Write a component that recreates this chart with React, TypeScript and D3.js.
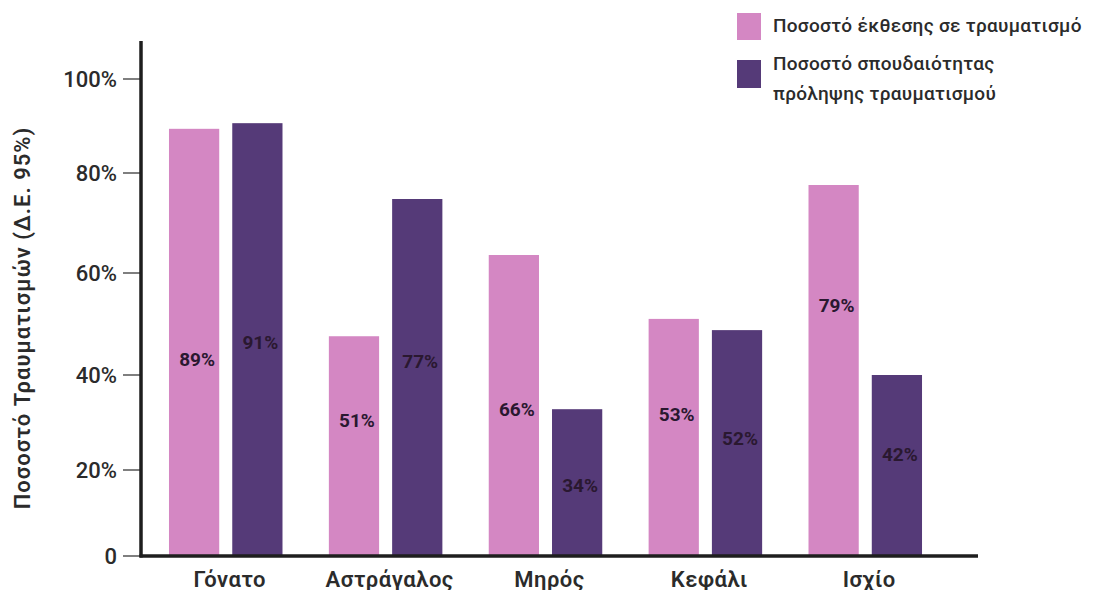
import React from "react";
import * as d3 from "d3";

const categories = ["Γόνατο", "Αστράγαλος", "Μηρός", "Κεφάλι", "Ισχίο"];
const seriesNames = ["Ποσοστό έκθεσης σε τραυματισμό", "Ποσοστό σπουδαιότητας πρόληψης τραυματισμού"];
// bar heights read against the picture's axis
const exposureValues = [89.4, 47.6, 63.6, 51.0, 77.6];
const importanceValues = [90.6, 74.8, 32.8, 48.8, 40.0];
// printed labels
const exposureLabels = ["89%", "51%", "66%", "53%", "79%"];
const importanceLabels = ["91%", "77%", "34%", "52%", "42%"];
// where each printed label sits, in axis units
const exposureLabelAt = [43.1, 30.5, 32.8, 31.6, 53.7];
const importanceLabelAt = [46.3, 42.7, 16.5, 26.7, 23.2];
const yTicks = [0, 20, 40, 60, 80, 100];
const yTickLabels = ["0", "20%", "40%", "60%", "80%", "100%"];
const yTitle = "Ποσοστό Τραυματισμών (Δ.Ε. 95%)";

const W = 1093;
const H = 590;
const PINK = "#D487C3";
const PURPLE = "#553A78";
const FONT = "Roboto, 'Noto Sans', sans-serif";
const TEXT = "#2b2b2b";

export default function App() {
  // the picture's axis is slightly uneven; follow its tick positions
  const y = d3.scaleLinear().domain(yTicks).range([556, 470, 375, 273, 173, 79]);
  const x0 = d3.scaleBand<string>().domain(categories).range([145, 946]).paddingInner(0.29).paddingOuter(0.15);
  const x1 = d3.scaleBand<number>().domain([0, 1]).range([0, x0.bandwidth()]).paddingInner(0.206);

  const series = [
    { name: seriesNames[0], values: exposureValues, labels: exposureLabels, at: exposureLabelAt, color: PINK },
    { name: seriesNames[1], values: importanceValues, labels: importanceLabels, at: importanceLabelAt, color: PURPLE },
  ];

  const axisX = 141;
  const baseY = y(0);

  return (
    <svg width={W} height={H} style={{ position: "absolute", left: 0, top: 0, background: "#fff" }} fontFamily={FONT}>
      {/* bars */}
      {categories.map((c, i) => (
        <g key={c} transform={`translate(${x0(c)},0)`}>
          {series.map((s, k) => (
            <rect key={k} x={x1(k)} y={y(s.values[i])} width={x1.bandwidth()} height={baseY - y(s.values[i])} fill={s.color} />
          ))}
          {series.map((s, k) => (
            <text
              key={"t" + k}
              x={(x1(k) as number) + x1.bandwidth() / 2 + 3}
              y={y(s.at[i])}
              textAnchor="middle"
              dominantBaseline="central"
              fontSize={19}
              fontWeight={700}
              fill="#2a1830"
            >
              {s.labels[i]}
            </text>
          ))}
        </g>
      ))}

      {/* y ticks */}
      {yTicks.map((t, i) => (
        <g key={t}>
          <line x1={123} x2={axisX} y1={y(t)} y2={y(t)} stroke="#555" strokeWidth={1.5} />
          <text x={117} y={y(t)} textAnchor="end" dominantBaseline="central" fontSize={22} fontWeight={500} fill={TEXT}>
            {yTickLabels[i]}
          </text>
        </g>
      ))}

      {/* axes */}
      <line x1={axisX} x2={axisX} y1={41} y2={baseY + 1.5} stroke="#1e1e1e" strokeWidth={3.5} />
      <line x1={axisX - 1.5} x2={978} y1={baseY} y2={baseY} stroke="#1e1e1e" strokeWidth={3.5} />

      {/* category labels */}
      {categories.map((c) => (
        <text key={c} x={(x0(c) as number) + x0.bandwidth() / 2 + 4} y={579} textAnchor="middle" dominantBaseline="central" fontSize={22} fontWeight={600} letterSpacing={0.5} fill={TEXT}>
          {c}
        </text>
      ))}

      {/* y title */}
      <text transform="translate(22,318) rotate(-90)" textAnchor="middle" dominantBaseline="central" fontSize={22} fontWeight={600} letterSpacing={1} fill={TEXT}>
        {yTitle}
      </text>

      {/* legend */}
      <rect x={737} y={13} width={24} height={27} fill={PINK} />
      <rect x={737} y={60} width={24} height={28} fill={PURPLE} />
      <text x={773} y={32} fontSize={19} fontWeight={500} letterSpacing={0.3} fill={TEXT}>
        {seriesNames[0]}
      </text>
      <text fontSize={19} fontWeight={500} letterSpacing={0.3} fill={TEXT}>
        <tspan x={773} y={70}>Ποσοστό σπουδαιότητας</tspan>
        <tspan x={773} y={100}>πρόληψης τραυματισμού</tspan>
      </text>
    </svg>
  );
}
